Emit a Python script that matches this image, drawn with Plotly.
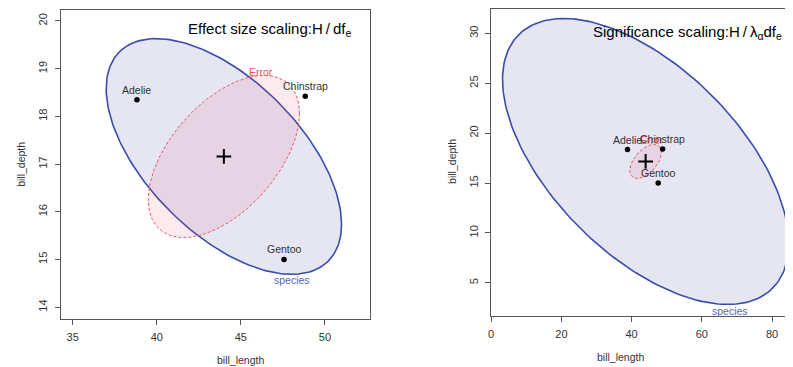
import numpy as np
import plotly.graph_objects as go

# ---- data ----
species = ["Adelie", "Chinstrap", "Gentoo"]
bill_length_means = [38.82, 48.83, 47.57]
bill_depth_means = [18.35, 18.42, 15.00]
grand_mean = [43.99, 17.16]

# ellipse shapes: (sd_x, sd_y, correlation) at the drawn radius
error_shape = [4.50, 1.70, 0.53]
species_effect_shape = [7.00, 2.47, -0.575]
species_signif_shape = [40.75, 14.32, -0.573]

left_xticks = [35, 40, 45, 50]
left_yticks = [14, 15, 16, 17, 18, 19, 20]
right_xticks = [0, 20, 40, 60, 80]
right_yticks = [5, 10, 15, 20, 25, 30]

# label positions (data coordinates)
left_error_label = [46.22, 18.94]
left_species_label = [48.06, 14.58]
right_error_label = [45.87, 19.34]
right_species_label = [67.9, 2.23]

BLUE = "#3b4da8"
RED = "#ee5566"

# page body has an 8px margin; figure is sized to fill the rest of the window
OX, OY = 8, 8
W, H = 793 - OX, 367 - OY


def px_x(p):
    return min(max((p - OX) / W, 0.0), 1.0)


def px_y(p):
    return min(max((H - (p - OY)) / H, 0.0), 1.0)


def ellipse(center, shape, n=200):
    sx, sy, r = shape
    S = np.array([[sx * sx, r * sx * sy], [r * sx * sy, sy * sy]])
    L = np.linalg.cholesky(S)
    t = np.linspace(0, 2 * np.pi, n)
    pts = L @ np.vstack([np.cos(t), np.sin(t)])
    return center[0] + pts[0], center[1] + pts[1]


fig = go.Figure()
LF = "Liberation Sans"


def add_panel(xa, ya, sp_shape, err_lab, sp_lab):
    ex, ey = ellipse(grand_mean, error_shape)
    sx_, sy_ = ellipse(grand_mean, sp_shape)
    fig.add_trace(go.Scatter(x=sx_, y=sy_, mode="lines", fill="toself",
                             fillcolor="rgba(60,60,160,0.13)",
                             line=dict(color=BLUE, width=1.6),
                             xaxis=xa, yaxis=ya, hoverinfo="skip", showlegend=False))
    fig.add_trace(go.Scatter(x=ex, y=ey, mode="lines", fill="toself",
                             fillcolor="rgba(240,60,100,0.11)",
                             line=dict(color=RED, width=1, dash="3px,2px"),
                             xaxis=xa, yaxis=ya, hoverinfo="skip", showlegend=False))
    fig.add_trace(go.Scatter(x=bill_length_means, y=bill_depth_means, mode="markers",
                             marker=dict(color="black", size=5.5),
                             xaxis=xa, yaxis=ya, showlegend=False))
    fig.add_trace(go.Scatter(x=[grand_mean[0]], y=[grand_mean[1]], mode="markers",
                             marker=dict(symbol="cross-thin", size=10.5,
                                         line=dict(color="black", width=2)),
                             xaxis=xa, yaxis=ya, showlegend=False))
    fig.add_annotation(x=err_lab[0], y=err_lab[1], xref=xa, yref=ya, text="Error",
                       showarrow=False, font=dict(color=RED, size=10.5, family=LF))
    fig.add_annotation(x=sp_lab[0], y=sp_lab[1], xref=xa, yref=ya, text="species",
                       showarrow=False, font=dict(color="#5566bb", size=10.5, family=LF))
    for name, x, y in zip(species, bill_length_means, bill_depth_means):
        fig.add_annotation(x=x, y=y, xref=xa, yref=ya, text=name, showarrow=False,
                           yshift=10, font=dict(color="#333333", size=10.5, family=LF))


add_panel("x", "y", species_effect_shape, left_error_label, left_species_label)
add_panel("x2", "y2", species_signif_shape, right_error_label, right_species_label)

axis_common = dict(showgrid=False, zeroline=False, showline=True, linecolor="#555555",
                   linewidth=1, ticks="outside", ticklen=5, tickcolor="#555555",
                   tickfont=dict(size=11, color="#333333", family=LF))

fig.update_layout(
    width=W, height=H, autosize=False,
    margin=dict(l=0, r=0, t=0, b=0),
    plot_bgcolor="white", paper_bgcolor="white",
    xaxis=dict(domain=[px_x(58), px_x(368)], range=[34.29, 52.66], tickvals=left_xticks,
               mirror=True, anchor="y", ticklabelstandoff=3, **axis_common),
    yaxis=dict(domain=[px_y(319), px_y(9)], range=[13.75, 20.23], tickvals=left_yticks,
               mirror=True, anchor="x", tickangle=-90, ticklabelstandoff=3, **axis_common),
    xaxis2=dict(domain=[px_x(490), 1.0], range=[0, 85.96], tickvals=right_xticks,
                mirror=True, anchor="y2", ticklabelstandoff=3, **axis_common),
    yaxis2=dict(domain=[px_y(316), px_y(8)], range=[1.67, 32.43], tickvals=right_yticks,
                mirror=False, anchor="x2", tickangle=-90, ticklabelstandoff=3, **axis_common),
)

tfont = dict(size=15, color="black", family=LF)
fig.add_annotation(x=px_x(351), y=px_y(29), xref="paper", yref="paper", xanchor="right",
                   yanchor="middle", showarrow=False, font=tfont,
                   text="Effect size scaling:H\u2009/\u2009df<sub>e</sub>")
fig.add_annotation(x=px_x(784), y=px_y(31.7), xref="paper", yref="paper", xanchor="right",
                   yanchor="middle", showarrow=False, font=tfont,
                   text="Significance scaling:H\u2009/\u2009\u03bb<sub>\u03b1</sub>df<sub>e</sub>")

lfont = dict(size=10.5, color="#333333", family=LF)
fig.add_annotation(x=px_x(213), y=px_y(360), xref="paper", yref="paper", text="bill_length",
                   showarrow=False, font=lfont, yanchor="middle")
fig.add_annotation(x=px_x(17.3), y=px_y(164), xref="paper", yref="paper", text="bill_depth",
                   showarrow=False, font=lfont, textangle=-90, xanchor="center")
fig.add_annotation(x=px_x(645), y=px_y(357), xref="paper", yref="paper", text="bill_length",
                   showarrow=False, font=lfont, yanchor="middle")
fig.add_annotation(x=px_x(450), y=px_y(161), xref="paper", yref="paper", text="bill_depth",
                   showarrow=False, font=lfont, textangle=-90, xanchor="center")

fig.write_html("out.html")
